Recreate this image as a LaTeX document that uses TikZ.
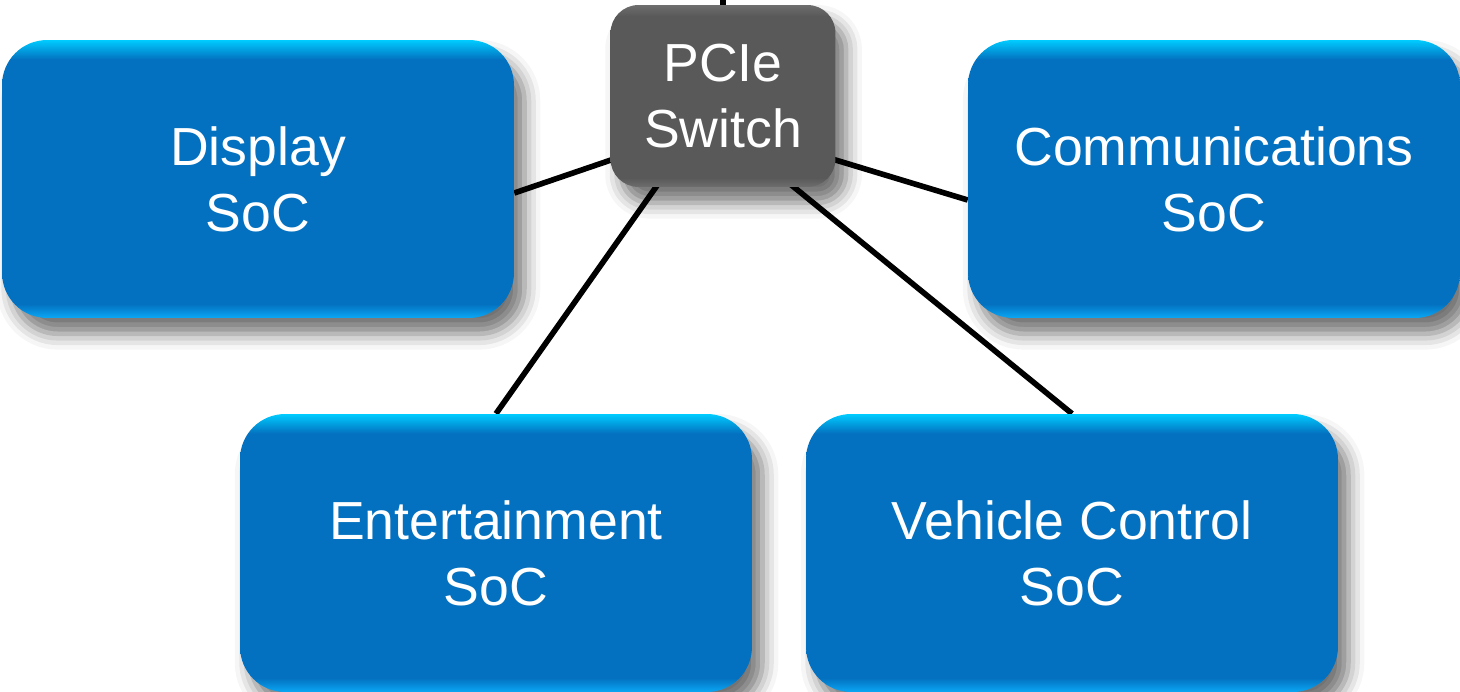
\documentclass[tikz,border=0pt]{standalone}
\usepackage{fontspec}
\setmainfont{Liberation Sans}
\usetikzlibrary{shadows.blur,backgrounds}

\definecolor{socmain}{HTML}{0371C0}
\definecolor{soctop}{HTML}{00CCFF}
\definecolor{socbot}{HTML}{0AA8F5}
\definecolor{swmain}{HTML}{595959}
\definecolor{swedge}{HTML}{6E6E6E}

\pgfdeclareverticalshading{socshade}{100bp}{color(0bp)=(socbot); color(25bp)=(socbot); color(27.5bp)=(socmain); color(71.5bp)=(socmain); color(75bp)=(soctop); color(100bp)=(soctop)}
\pgfdeclareverticalshading{swshade}{100bp}{color(0bp)=(swedge); color(25bp)=(swedge); color(27.5bp)=(swmain); color(72bp)=(swmain); color(75bp)=(swedge); color(100bp)=(swedge)}

\begin{document}
\begin{tikzpicture}[x=0.02cm,y=-0.02cm,
  box/.style={shade,text=white,align=center,inner sep=0pt,
    font=\fontsize{30.5}{37.5}\selectfont,
    blur shadow={shadow xshift=6pt,shadow yshift=-9pt,shadow blur radius=9pt,shadow opacity=55}},
  soc/.style={box,shading=socshade,rounded corners=0.9cm,minimum height=5.56cm,
    execute at begin node={\rule{0pt}{33pt}}},
  switch/.style={box,shading=swshade,rounded corners=0.56cm,minimum width=4.5cm,minimum height=3.64cm},
  link/.style={line width=3.2pt}]
\useasboundingbox (0,0) rectangle (1460,692);

\node[switch] (sw) at (723,96) {PCIe\\Switch};

\node[soc,minimum width=10.24cm] (disp) at (258,179) {Display\\SoC};
\node[soc,minimum width=9.84cm] (comm) at (1214,179) {Communications\\SoC};
\node[soc,minimum width=10.24cm] (ent) at (496,553) {Entertainment\\SoC};
\node[soc,minimum width=10.64cm] (veh) at (1072,553) {Vehicle Control\\SoC};

\coordinate (hub) at ([shift={(-0.13cm,-0.56cm)}]sw.center);
\coordinate (hubent) at ([shift={(-0.45cm,-0.56cm)}]sw.center);
\coordinate (up) at (723,0);

\begin{scope}[on background layer]
\draw[link] (sw.north) -- (up);
\draw[link] (hub) -- ([yshift=-0.28cm]disp.east);
\draw[link] (hub) -- ([yshift=-0.42cm]comm.west);
\draw[link] (hubent) -- (ent.north);
\draw[link] (hub) -- (veh.north);
\end{scope}

\end{tikzpicture}
\end{document}
